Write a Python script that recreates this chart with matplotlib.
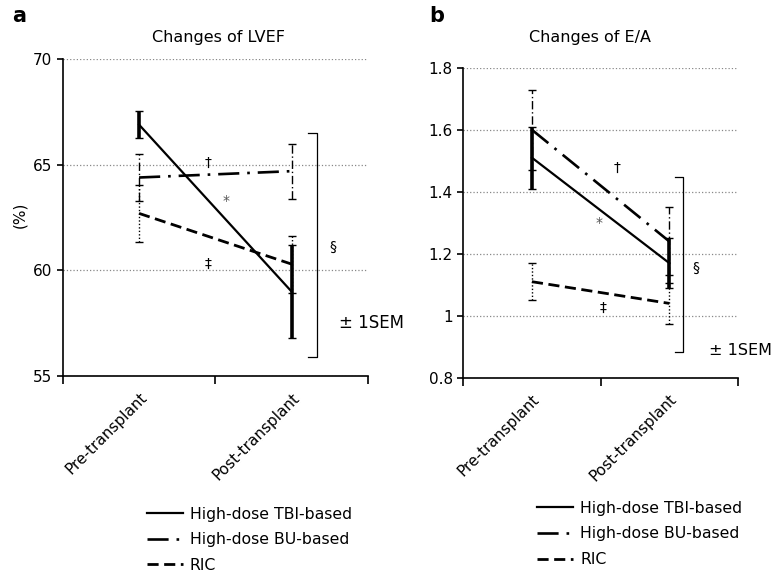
import numpy as np
import matplotlib
matplotlib.use("Agg")
import matplotlib.pyplot as plt
from matplotlib.lines import Line2D
from matplotlib.ticker import FuncFormatter

plt.rcParams['font.family'] = ['DejaVu Sans']

categories = ["Pre-transplant", "Post-transplant"]
groups = ["High-dose TBI-based", "High-dose BU-based", "RIC"]

# LVEF (%), mean and SEM
lvef_tbi = [66.9, 59.0]
lvef_tbi_sem = [0.65, 2.2]
lvef_bu = [64.4, 64.7]
lvef_bu_sem = [1.1, 1.3]
lvef_ric = [62.7, 60.3]
lvef_ric_sem = [1.35, 1.35]

# E/A ratio, mean and SEM
ea_tbi = [1.51, 1.17]
ea_tbi_sem = [0.10, 0.08]
ea_bu = [1.60, 1.24]
ea_bu_sem = [0.13, 0.11]
ea_ric = [1.11, 1.04]
ea_ric_sem = [0.06, 0.065]

line_styles = ['-', (0, (8, 3, 1, 3)), (0, (4, 2))]
line_widths = [1.6, 1.9, 2.0]
err_styles = ['-', (0, (6, 2, 1, 2)), (0, (1, 1.5))]
err_widths = [2.6, 1.0, 1.0]

fig = plt.figure(figsize=(7.76, 5.75), dpi=100)


def draw_panel(ax, series, sems, ylim, yticks, fmt):
    x = np.arange(len(categories))
    for vals, sem, ls, lw, els, elw in zip(series, sems, line_styles, line_widths,
                                           err_styles, err_widths):
        ax.plot(x, vals, color='black', linestyle=ls, linewidth=lw, zorder=3)
        eb = ax.errorbar(x, vals, yerr=sem, fmt='none', ecolor='black',
                         elinewidth=elw, capsize=3, capthick=1.0, zorder=4)
        eb[2][0].set_linestyle(els)
    ax.set_xlim(-0.5, 1.5)
    ax.set_ylim(*ylim)
    ax.set_yticks(yticks)
    ax.yaxis.set_major_formatter(FuncFormatter(fmt))
    ax.set_xticks(x)
    ax.set_xticklabels(categories, rotation=45, ha='right', rotation_mode='anchor',
                       fontsize=11)
    ax.tick_params(axis='x', which='major', length=0, pad=10)
    ax.set_xticks([-0.5, 0.5, 1.5], minor=True)
    ax.tick_params(axis='x', which='minor', length=6, width=1.2)
    ax.tick_params(axis='y', labelsize=11, length=4, width=1.2)
    ax.yaxis.grid(True, linestyle=':', color='#888888', linewidth=0.9)
    ax.set_axisbelow(True)
    for s in ['top', 'right']:
        ax.spines[s].set_visible(False)
    for s in ['left', 'bottom']:
        ax.spines[s].set_linewidth(1.2)


def bracket(ax, x, y0, y1, dx=0.06):
    ax.plot([x - dx, x, x, x - dx], [y1, y1, y0, y0], color='black', linewidth=0.9,
            clip_on=False)


ax1 = fig.add_axes([0.081, 0.346, 0.393, 0.551])
draw_panel(ax1, [lvef_tbi, lvef_bu, lvef_ric], [lvef_tbi_sem, lvef_bu_sem, lvef_ric_sem],
           (55, 70), [55, 60, 65, 70], lambda v, p: "%g" % v)
ax1.text(0.45, 65.1, "\u2020", fontsize=10, ha='center', va='center')
ax1.text(0.57, 63.3, "*", fontsize=10, ha='center', va='center', color='#555555')
ax1.text(0.45, 60.3, "\u2021", fontsize=10, ha='center', va='center')
bracket(ax1, 1.165, 55.9, 66.5)
ax1.text(1.27, 61.1, "\u00a7", fontsize=10, ha='center', va='center')
ax1.text(1.31, 57.5, "\u00b1 1SEM", fontsize=12, ha='left', va='center', clip_on=False)

ax2 = fig.add_axes([0.597, 0.343, 0.354, 0.539])
draw_panel(ax2, [ea_tbi, ea_bu, ea_ric], [ea_tbi_sem, ea_bu_sem, ea_ric_sem],
           (0.8, 1.8), [0.8, 1.0, 1.2, 1.4, 1.6, 1.8],
           lambda v, p: "%g" % round(v, 1))
ax2.text(0.62, 1.477, "\u2020", fontsize=10, ha='center', va='center')
ax2.text(0.49, 1.30, "*", fontsize=10, ha='center', va='center', color='#555555')
ax2.text(0.52, 1.026, "\u2021", fontsize=10, ha='center', va='center')
bracket(ax2, 1.10, 0.884, 1.448)
ax2.text(1.19, 1.155, "\u00a7", fontsize=10, ha='center', va='center')
fig.text(0.995, 0.391, "\u00b1 1SEM", fontsize=11.5, ha='right', va='center')

fig.text(0.281, 0.934, "Changes of LVEF", fontsize=11.5, ha='center', va='center')
fig.text(0.760, 0.934, "Changes of E/A", fontsize=11.5, ha='center', va='center')
fig.text(0.026, 0.626, "(%)", fontsize=11, rotation=90, ha='center', va='center')
fig.text(0.016, 0.972, "a", fontsize=15, fontweight='bold', va='center')
fig.text(0.553, 0.972, "b", fontsize=15, fontweight='bold', va='center')

handles = [Line2D([0], [0], color='black', linestyle=ls, linewidth=lw)
           for ls, lw in zip(line_styles, line_widths)]
for anchor in [(0.189, 0.119), (0.692, 0.129)]:
    fig.legend(handles, groups, loc='upper left', bbox_to_anchor=anchor, frameon=False,
               fontsize=11.3, handlelength=2.3, handletextpad=0.45, labelspacing=0.68,
               borderpad=0, borderaxespad=0)

fig.savefig("out.png", dpi=100)
